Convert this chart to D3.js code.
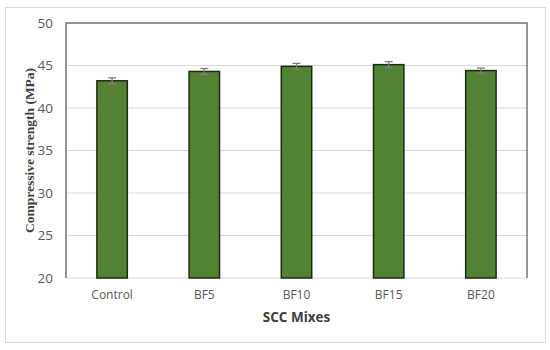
<!DOCTYPE html>
<html><head><meta charset="utf-8">
<script src="https://cdn.jsdelivr.net/npm/d3@7"></script>
<style>body{margin:0;background:#fff}</style>
</head><body>
<svg id="c" width="550" height="350"></svg>
<script>
const categories = ["Control","BF5","BF10","BF15","BF20"];
const strength = [43.2, 44.3, 44.9, 45.1, 44.4];
const errors = [0.35, 0.35, 0.35, 0.35, 0.3];
const yTicks = [20,25,30,35,40,45,50];

const svg = d3.select("#c");
const m = {l:66, r:527, t:23, b:278};
svg.append("rect").attr("x",5.5).attr("y",7.5).attr("width",540).attr("height",335)
  .attr("fill","#fff").attr("stroke","#d9d9d9").attr("stroke-width",1);

const x = d3.scaleBand().domain(categories).range([m.l,m.r]).paddingInner(0.67).paddingOuter(0.335);
const y = d3.scaleLinear().domain([20,50]).range([m.b,m.t]);

// gridlines
svg.append("g").selectAll("line").data(yTicks).join("line")
  .attr("x1",m.l).attr("x2",m.r).attr("y1",d=>y(d)).attr("y2",d=>y(d))
  .attr("stroke","#d9d9d9").attr("stroke-width",1);

// y tick labels
const yAxis = d3.axisLeft(y).tickValues(yTicks).tickSize(0).tickPadding(13);
const ga = svg.append("g").attr("transform",`translate(${m.l},0)`).call(yAxis);
ga.select(".domain").remove();
ga.selectAll("text").attr("font-family","'Open Sans', 'Liberation Sans', sans-serif").attr("font-size",13.5).attr("fill","#595959");

// x tick labels
const xAxis = d3.axisBottom(x).tickSize(0).tickPadding(12);
const gx = svg.append("g").attr("transform",`translate(0,${m.b})`).call(xAxis);
gx.select(".domain").remove();
gx.selectAll("text").attr("font-family","'Open Sans', 'Liberation Sans', sans-serif").attr("font-size",12).attr("fill","#595959");

// bars
svg.append("g").selectAll("rect").data(categories).join("rect")
  .attr("x",d=>x(d)).attr("width",x.bandwidth())
  .attr("y",(d,i)=>y(strength[i])).attr("height",(d,i)=>y(20)-y(strength[i]))
  .attr("fill","#548235").attr("stroke","#1e2b14").attr("stroke-width",1.5);

// error bars
const eg = svg.append("g").attr("stroke","#7f7f7f").attr("stroke-width",1.3);
categories.forEach((c,i)=>{
  const cx = x(c)+x.bandwidth()/2;
  eg.append("line").attr("x1",cx).attr("x2",cx).attr("y1",y(strength[i]-errors[i])).attr("y2",y(strength[i]+errors[i]));
  [strength[i]-errors[i], strength[i]+errors[i]].forEach(v=>{
    eg.append("line").attr("x1",cx-4).attr("x2",cx+4).attr("y1",y(v)).attr("y2",y(v));
  });
});

// plot border (left, top, right)
svg.append("path").attr("d",`M${m.l},${m.b}V${m.t}H${m.r}V${m.b}`)
  .attr("fill","none").attr("stroke","#767676").attr("stroke-width",1.5);

// axis titles
svg.append("text").attr("x",(m.l+m.r)/2).attr("y",322).attr("text-anchor","middle")
  .attr("font-family","'Open Sans', 'Liberation Sans', sans-serif").attr("font-weight","bold").attr("font-size",13.5).attr("fill","#404040")
  .text("SCC Mixes");
svg.append("text").attr("transform",`translate(34,${(m.t+m.b)/2}) rotate(-90)`).attr("text-anchor","middle")
  .attr("font-family","'Liberation Serif', 'Times New Roman', serif").attr("font-weight","bold").attr("font-size",13.5).attr("fill","#404040")
  .text("Compressive strength (MPa)");
</script>
</body></html>
